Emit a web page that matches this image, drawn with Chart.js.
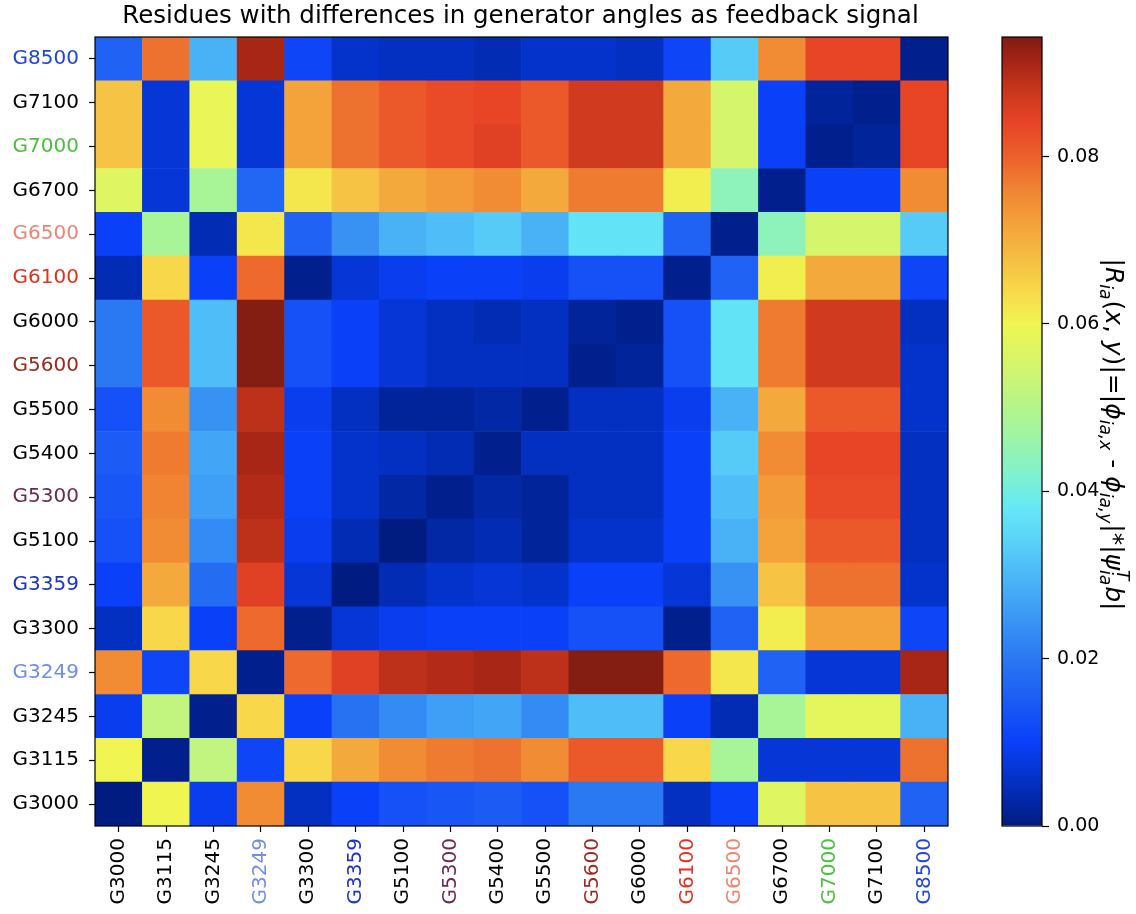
<!DOCTYPE html>
<html>
<head>
<meta charset="utf-8">
<script src="https://cdn.jsdelivr.net/npm/chart.js@4.4.1/dist/chart.umd.min.js"></script>
<style>
  html, body { margin: 0; padding: 0; background: #fff; }
  #wrap { position: relative; width: 1136px; height: 914px; }
  #heat { position: absolute; left: 0; top: 0; }
  #cbar { position: absolute; left: 990px; top: 0; }
</style>
</head>
<body>
<div id="wrap">
  <canvas id="heat" width="990" height="914"></canvas>
  <canvas id="cbar" width="146" height="914"></canvas>
</div>
<script>
// Generators, listed from the bottom row / left column upwards.
const generators = ['G3000', 'G3115', 'G3245', 'G3249', 'G3300', 'G3359', 'G5100', 'G5300', 'G5400',
                    'G5500', 'G5600', 'G6000', 'G6100', 'G6500', 'G6700', 'G7000', 'G7100', 'G8500'];

// Tick label colours per generator.
const labelColors = ['#000000', '#000000', '#000000', '#6f8fe6', '#000000', '#1a33c8', '#000000', '#6b2a55', '#000000',
                     '#000000', '#9c2a1c', '#000000', '#e0331f', '#f08473', '#000000', '#4cbf3f', '#000000', '#1f44e0'];

// Residue magnitudes, one row per generator (columns in the same generator order).
const g3000 = [0.000, 0.060, 0.009, 0.075, 0.005, 0.010, 0.013, 0.014, 0.015, 0.013, 0.020, 0.020, 0.005, 0.010, 0.057, 0.067, 0.067, 0.016];
const g3115 = [0.060, 0.001, 0.052, 0.011, 0.064, 0.071, 0.075, 0.077, 0.078, 0.075, 0.081, 0.081, 0.064, 0.048, 0.007, 0.007, 0.007, 0.078];
const g3245 = [0.009, 0.052, 0.001, 0.064, 0.010, 0.019, 0.023, 0.026, 0.027, 0.023, 0.031, 0.031, 0.010, 0.004, 0.048, 0.058, 0.058, 0.029];
const g3249 = [0.075, 0.011, 0.064, 0.001, 0.079, 0.085, 0.089, 0.090, 0.091, 0.089, 0.094, 0.094, 0.079, 0.062, 0.016, 0.007, 0.007, 0.091];
const g3300 = [0.005, 0.064, 0.010, 0.079, 0.001, 0.007, 0.009, 0.010, 0.010, 0.010, 0.013, 0.013, 0.001, 0.016, 0.061, 0.072, 0.072, 0.011];
const g3359 = [0.010, 0.071, 0.018, 0.085, 0.007, 0.000, 0.004, 0.006, 0.007, 0.006, 0.010, 0.010, 0.007, 0.024, 0.067, 0.078, 0.078, 0.006];
const g5100 = [0.013, 0.075, 0.023, 0.089, 0.009, 0.004, 0.000, 0.003, 0.004, 0.002, 0.006, 0.006, 0.010, 0.029, 0.072, 0.081, 0.081, 0.005];
const g5300 = [0.014, 0.076, 0.026, 0.090, 0.010, 0.006, 0.003, 0.001, 0.003, 0.002, 0.005, 0.005, 0.010, 0.031, 0.073, 0.083, 0.083, 0.005];
const g5400 = [0.015, 0.077, 0.027, 0.091, 0.010, 0.006, 0.005, 0.004, 0.001, 0.005, 0.005, 0.005, 0.010, 0.033, 0.075, 0.084, 0.084, 0.005];
const g5500 = [0.013, 0.075, 0.024, 0.089, 0.009, 0.005, 0.002, 0.002, 0.003, 0.001, 0.005, 0.005, 0.009, 0.029, 0.071, 0.081, 0.081, 0.006];
const g5600 = [0.020, 0.081, 0.031, 0.094, 0.013, 0.010, 0.007, 0.005, 0.005, 0.005, 0.001, 0.002, 0.013, 0.037, 0.077, 0.087, 0.087, 0.006];
const g6000 = [0.020, 0.081, 0.031, 0.094, 0.013, 0.010, 0.007, 0.005, 0.004, 0.005, 0.002, 0.001, 0.013, 0.037, 0.077, 0.087, 0.087, 0.005];
const g6100 = [0.004, 0.064, 0.010, 0.079, 0.001, 0.007, 0.009, 0.010, 0.010, 0.009, 0.013, 0.013, 0.001, 0.016, 0.061, 0.071, 0.071, 0.011];
const g6500 = [0.010, 0.048, 0.004, 0.062, 0.016, 0.024, 0.029, 0.031, 0.033, 0.029, 0.037, 0.037, 0.016, 0.001, 0.044, 0.055, 0.055, 0.033];
const g6700 = [0.057, 0.007, 0.048, 0.017, 0.062, 0.067, 0.071, 0.073, 0.075, 0.071, 0.077, 0.077, 0.061, 0.044, 0.001, 0.010, 0.010, 0.075];
const g7000 = [0.067, 0.007, 0.059, 0.007, 0.072, 0.078, 0.081, 0.083, 0.085, 0.081, 0.087, 0.087, 0.071, 0.055, 0.010, 0.001, 0.002, 0.084];
const g7100 = [0.067, 0.007, 0.059, 0.007, 0.072, 0.078, 0.081, 0.083, 0.084, 0.081, 0.087, 0.087, 0.071, 0.055, 0.010, 0.002, 0.001, 0.084];
const g8500 = [0.016, 0.078, 0.029, 0.091, 0.011, 0.006, 0.005, 0.005, 0.004, 0.006, 0.006, 0.005, 0.011, 0.033, 0.075, 0.084, 0.084, 0.001];

const rows = [g3000, g3115, g3245, g3249, g3300, g3359, g5100, g5300, g5400,
              g5500, g5600, g6000, g6100, g6500, g6700, g7000, g7100, g8500];

// Colour scale limits and colormap stops (value, colour).
const colorMin = 0;
const colorMax = 0.0943;
const colorbarTicks = [0, 0.02, 0.04, 0.06, 0.08];
const cmapStops = [
  [0.000, '#001c80'], [0.005, '#0330c0'], [0.010, '#0a40f8'], [0.015, '#1c5cf5'],
  [0.020, '#2a78f2'], [0.025, '#3c98f5'], [0.030, '#4cb8f8'], [0.035, '#5cd8f8'],
  [0.038, '#66e8f5'], [0.042, '#80f2cc'], [0.048, '#a8f598'], [0.055, '#d4f56c'],
  [0.060, '#f0f552'], [0.064, '#f8d84a'], [0.068, '#f5bc42'], [0.072, '#f4a23a'],
  [0.076, '#f08432'], [0.080, '#ec602c'], [0.084, '#e84426'], [0.088, '#c8361c'],
  [0.091, '#a82616'], [0.0943, '#801c12']
];

const FONT = "'DejaVu Sans', 'Liberation Sans', sans-serif";
const TICK_SIZE = 20;

function hexToRgb(h) {
  const n = parseInt(h.slice(1), 16);
  return [(n >> 16) & 255, (n >> 8) & 255, n & 255];
}
const cmapRgb = cmapStops.map(([v, c]) => [v, hexToRgb(c)]);

function colorFor(v) {
  const x = Math.min(Math.max(v, colorMin), colorMax);
  for (let i = 1; i < cmapRgb.length; i++) {
    const [v1, c1] = cmapRgb[i];
    if (x <= v1) {
      const [v0, c0] = cmapRgb[i - 1];
      const t = (x - v0) / (v1 - v0 || 1);
      const c = c0.map((a, k) => Math.round(a + (c1[k] - a) * t));
      return `rgb(${c[0]},${c[1]},${c[2]})`;
    }
  }
  const c = cmapRgb[cmapRgb.length - 1][1];
  return `rgb(${c[0]},${c[1]},${c[2]})`;
}

// One floating-bar dataset per row; each bar spans one cell vertically.
const datasets = rows.map((vals, r) => ({
  label: generators[r],
  data: vals.map(() => [r - 0.5, r + 0.5]),
  backgroundColor: vals.map(colorFor),
  borderWidth: 0,
  grouped: false,
  barPercentage: 1,
  categoryPercentage: 1
}));

function drawFrame(chart) {
  const { ctx, chartArea: a } = chart;
  ctx.save();
  ctx.strokeStyle = '#000';
  ctx.lineWidth = 1.2;
  ctx.strokeRect(a.left, a.top, a.right - a.left, a.bottom - a.top);
  ctx.restore();
}

const frame = { id: 'frame', afterDraw: drawFrame };

const heading = {
  id: 'heading',
  afterDraw(chart) {
    const { ctx, chartArea: a } = chart;
    ctx.save();
    ctx.fillStyle = '#000';
    ctx.font = `24.5px ${FONT}`;
    ctx.textAlign = 'center';
    ctx.textBaseline = 'middle';
    ctx.fillText('Residues with differences in generator angles as feedback signal', (a.left + a.right) / 2 - 1, 17);
    ctx.restore();
  }
};

new Chart(document.getElementById('heat'), {
  type: 'bar',
  data: { labels: generators, datasets },
  options: {
    responsive: false,
    animation: false,
    devicePixelRatio: 1,
    layout: { padding: { top: 37, right: 42, left: 0, bottom: 0 } },
    plugins: { legend: { display: false }, tooltip: { enabled: false }, title: { display: false } },
    scales: {
      x: {
        type: 'category',
        offset: true,
        grid: { display: true, drawOnChartArea: false, drawTicks: true, tickLength: 6, tickWidth: 1.2, tickColor: '#000', offset: false },
        border: { display: false },
        ticks: {
          autoSkip: false, maxRotation: 90, minRotation: 90, padding: 6,
          font: { family: FONT, size: TICK_SIZE },
          color: (c) => labelColors[c.index]
        },
        afterFit: (s) => { s.height = 88; }
      },
      y: {
        type: 'linear',
        min: -0.5,
        max: 17.5,
        afterBuildTicks: (s) => { s.ticks = generators.map((g, i) => ({ value: i })); },
        grid: { display: true, drawOnChartArea: false, drawTicks: true, tickLength: 6, tickWidth: 1.2, tickColor: '#000' },
        border: { display: false },
        ticks: {
          padding: 10,
          font: { family: FONT, size: TICK_SIZE },
          callback: (v) => generators[v],
          color: (c) => labelColors[c.tick ? c.tick.value : c.index]
        },
        afterFit: (s) => { s.width = 95; }
      }
    }
  },
  plugins: [frame, heading]
});

// ---- colour bar ----
// The single bar spans [colorMin, colorMax]; it is painted with the colormap gradient.
const cbarFill = {
  id: 'cbarFill',
  afterDatasetsDraw(chart) {
    const bar = chart.getDatasetMeta(0).data[0];
    if (!bar) return;
    const { x, y, base, width } = bar.getProps(['x', 'y', 'base', 'width'], true);
    const ctx = chart.ctx;
    const g = ctx.createLinearGradient(0, base, 0, y);
    cmapStops.forEach(([v, c]) => g.addColorStop((v - colorMin) / (colorMax - colorMin), c));
    ctx.save();
    ctx.fillStyle = g;
    ctx.fillRect(x - width / 2, y, width, base - y);
    ctx.restore();
    drawFrame(chart);
  }
};

// Mathtext-like pieces of the colour bar label.
const cbarLabel = [
  { t: '|' }, { t: 'R', it: true }, { sub: 'ia' }, { t: '(' }, { t: 'x', it: true }, { t: ', ' },
  { t: 'y', it: true }, { t: ')|=|' }, { t: 'ϕ', it: true }, { sub: 'ia,x' }, { t: ' - ' },
  { t: 'ϕ', it: true }, { sub: 'ia,y' }, { t: '|*|' }, { t: 'ψ', it: true }, { sub: 'ia', sup: 'T' },
  { t: 'b', it: true }, { t: '|' }
];

const cbarTitle = {
  id: 'cbarTitle',
  afterDraw(chart) {
    const { ctx, chartArea: a } = chart;
    const m = 25, s = 17;
    const main = (it) => `${it ? 'italic ' : ''}${m}px ${FONT}`;
    const small = `italic ${s}px ${FONT}`;
    ctx.save();
    const widths = cbarLabel.map((p) => {
      if (p.t !== undefined) { ctx.font = main(p.it); return ctx.measureText(p.t).width; }
      ctx.font = small;
      const w1 = p.sub ? ctx.measureText(p.sub).width : 0;
      const w2 = p.sup ? ctx.measureText(p.sup).width : 0;
      return Math.max(w1, w2) + 1;
    });
    const total = widths.reduce((p, q) => p + q, 0);
    ctx.translate(116, (a.top + a.bottom) / 2 + 3);
    ctx.rotate(Math.PI / 2);
    ctx.fillStyle = '#000';
    ctx.textBaseline = 'alphabetic';
    let x = -total / 2;
    cbarLabel.forEach((p, i) => {
      if (p.t !== undefined) {
        ctx.font = main(p.it);
        ctx.fillText(p.t, x, 0);
      } else {
        ctx.font = small;
        if (p.sub) ctx.fillText(p.sub, x, 6);
        if (p.sup) ctx.fillText(p.sup, x, -11);
      }
      x += widths[i];
    });
    ctx.restore();
  }
};

new Chart(document.getElementById('cbar'), {
  type: 'bar',
  data: {
    labels: [''],
    datasets: [{
      data: [[colorMin, colorMax]],
      backgroundColor: 'rgba(0,0,0,0)',
      borderWidth: 0,
      barPercentage: 1,
      categoryPercentage: 1
    }]
  },
  options: {
    responsive: false,
    animation: false,
    devicePixelRatio: 1,
    layout: { padding: { left: 12, top: 37, bottom: 88, right: 0 } },
    plugins: { legend: { display: false }, tooltip: { enabled: false } },
    scales: {
      x: { display: false },
      y: {
        position: 'right',
        min: colorMin,
        max: colorMax,
        afterBuildTicks: (s) => { s.ticks = colorbarTicks.map((v) => ({ value: v })); },
        grid: { display: true, drawOnChartArea: false, drawTicks: true, tickLength: 7, tickWidth: 1.2, tickColor: '#000' },
        border: { display: false },
        ticks: { padding: 8, font: { family: FONT, size: 19 }, color: '#000', callback: (v) => v.toFixed(2) },
        afterFit: (s) => { s.width = 94; }
      }
    }
  },
  plugins: [cbarFill, cbarTitle]
});
</script>
</body>
</html>
